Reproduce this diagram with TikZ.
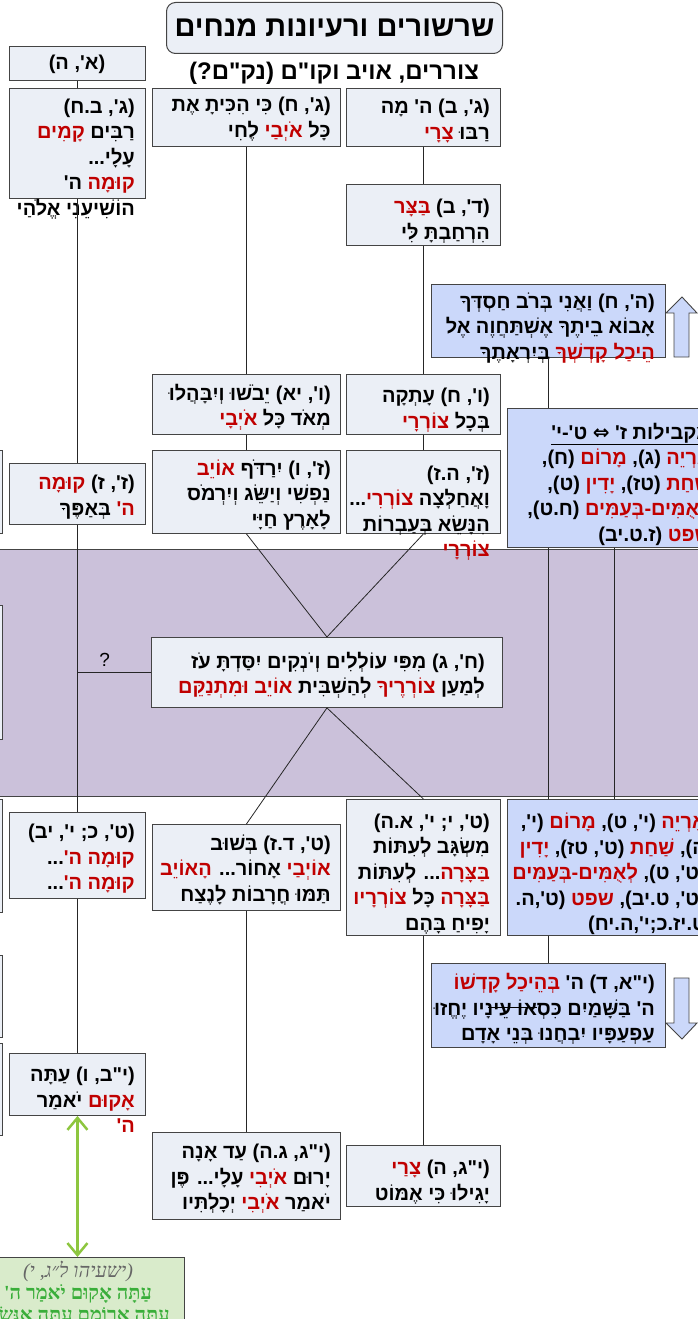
\documentclass[tikz,border=0pt]{standalone}
\usepackage{fontspec}
\usetikzlibrary{positioning,arrows.meta}
\TeXXeTstate=1
\newfontfamily\heb[Script=Hebrew]{Liberation Sans}
\newfontfamily\hebred[Script=Hebrew, Color=C00000]{Liberation Sans}
\newfontfamily\hebgray[Script=Hebrew, Color=666666]{Liberation Serif}
\newfontfamily\hebgreen[Script=Hebrew, Color=3AAE3A]{Liberation Serif}
\newfontfamily\dvs{DejaVu Sans}
\definecolor{boxfill}{HTML}{EBEFF6}
\definecolor{bluefill}{HTML}{CBD8FA}
\definecolor{bandfill}{HTML}{CBC1DA}
\definecolor{bord}{HTML}{444444}
\definecolor{grfill}{HTML}{D9EBCB}
\definecolor{grarrow}{HTML}{8DC63F}
\newcommand{\rl}[1]{\beginR #1\endR}
\newcommand{\rd}[1]{{\hebred #1}}

\begin{document}
\begin{tikzpicture}[x=1pt, y=-1pt]
  \tikzstyle{vbox} = [draw=bord, fill=boxfill, line width=0.9pt, inner sep=0pt, anchor=north west]
  \tikzstyle{bbox} = [vbox, fill=bluefill]
  \tikzstyle{txt} = [align=right, inner sep=0pt, anchor=east, font=\heb\bfseries\fontsize{20}{25.5}\selectfont]
  \tikzstyle{link} = [draw=black!85, line width=0.8pt]
  \useasboundingbox (0,0) rectangle (698,1319);
  \clip (0,0) rectangle (698,1319);

  % band
  \node[draw=bord, fill=bandfill, line width=1.2pt, minimum width=720, minimum height=247, anchor=north west] (band) at (-11,549) {};

  % title
  \node[draw=bord, fill=boxfill, rounded corners=9pt, line width=1pt, minimum width=336, minimum height=51, anchor=north west,
        font=\heb\bfseries\fontsize{29}{32}\selectfont] (title) at (166,2) {\rl{שרשורים ורעיונות מנחים}};
  \node[font=\heb\bfseries\fontsize{24}{28}\selectfont] (sub) at (334,73) {\rl{צוררים, אויב וקו"ם (נק"ם?)}};

  % cut boxes on the left
  \node[vbox, minimum width=22, minimum height=83] (l1) at (-20,450) {};
  \node[vbox, minimum width=22, minimum height=134] (l2) at (-20,605) {};
  \node[vbox, minimum width=22, minimum height=113] (l3) at (-20,799) {};
  \node[vbox, minimum width=22, minimum height=82] (l4) at (-20,955) {};
  \node[vbox, minimum width=22, minimum height=92] (l5) at (-20,1043) {};

  % left column
  \node[vbox, minimum width=136, minimum height=34] (ah) at (9,46) {};
  \node[txt, anchor=center] (ah-t) at (77,64) {\rl{(א', ה)}};
  \node[vbox, minimum width=136, minimum height=110] (gbh) at (9,88) {};
  \node[txt] (gbh-t) at (135,159) {\rl{(ג', ב.ח)}\\ \rl{רַבִּים \rd{קָמִים}}\\ \rl{עָלָי...}\\ \rl{\rd{קוּמָה} ה'}\\ \rl{הוֹשִׁיעֵנִי אֱלֹהַי}};
  \node[vbox, minimum width=136, minimum height=61] (zz) at (9,463) {};
  \node[txt] (zz-t) at (135,497) {\rl{(ז', ז) \rd{קוּמָה}}\\ \rl{\rd{ה'} בְּאַפֶּךָ}};
  \node[vbox, minimum width=136, minimum height=86] (tk) at (9,812) {};
  \node[txt] (tk-t) at (135,859) {\rl{(ט', כ; י', יב)}\\ \rl{\rd{קוּמָה ה'}...}\\ \rl{\rd{קוּמָה ה'}...}};
  \node[vbox, minimum width=136, minimum height=62] (ybv) at (9,1053) {};
  \node[txt] (ybv-t) at (135,1100) {\rl{(י"ב, ו) עַתָּה}\\ \rl{\rd{אָקוּם} יֹאמַר}\\ \rl{\rd{ה'}}};
  \node[draw=bord, fill=grfill, line width=1pt, minimum width=214, minimum height=90, anchor=north west] (isa) at (-30,1257) {};
  \node[align=center, inner sep=0pt, font=\fontsize{20}{22}\selectfont] (isa-t) at (78,1294)
       {{\hebgray\itshape\rl{(ישעיהו ל״ג, י)}}\\ {\hebgreen\bfseries\rl{עַתָּה אָקוּם יֹאמַר ה'}}\\ {\hebgreen\bfseries\rl{עַתָּה אֵרוֹמָם עַתָּה אֶנָּשֵׂא}}};

  % middle column
  \node[vbox, minimum width=188, minimum height=58] (gh) at (152,88) {};
  \node[txt] (gh-t) at (331,119) {\rl{(ג', ח) כִּי הִכִּיתָ אֶת}\\ \rl{כָּל \rd{אֹיְבַי} לֶחִי}};
  \node[vbox, minimum width=188, minimum height=60] (vya) at (152,374) {};
  \node[txt] (vya-t) at (331,407) {\rl{(ו', יא) יֵבֹשׁוּ וְיִבָּהֲלוּ}\\ \rl{מְאֹד כָּל \rd{אֹיְבָי}}};
  \node[vbox, minimum width=188, minimum height=83] (zv) at (152,450) {};
  \node[txt] (zv-t) at (331,495) {\rl{(ז', ו) יִרַדֹּף \rd{אוֹיֵב}}\\ \rl{נַפְשִׁי וְיַשֵּׂג וְיִרְמֹס}\\ \rl{לָאָרֶץ חַיָּי}};
  \node[vbox, minimum width=351, minimum height=70] (hg) at (151,637) {};
  \node[txt] (hg-t) at (485,675) {\rl{(ח', ג) מִפִּי עוֹלְלִים וְיֹנְקִים יִסַּדְתָּ עֹז}\\ \rl{לְמַעַן \rd{צוֹרְרֶיךָ} לְהַשְׁבִּית \rd{אוֹיֵב וּמִתְנַקֵּם}}};
  \node[vbox, minimum width=188, minimum height=86] (tdz) at (152,824) {};
  \node[txt] (tdz-t) at (331,870) {\rl{(ט', ד.ז) בְּשׁוּב}\\ \rl{\rd{אוֹיְבַי} אָחוֹר... \rd{הָאוֹיֵב}}\\ \rl{תַּמּוּ חֳרָבוֹת לָנֶצַח}};
  \node[vbox, minimum width=188, minimum height=87] (ygh) at (152,1132) {};
  \node[txt] (ygh-t) at (331,1179) {\rl{(י"ג, ג.ה) עַד אָנָה}\\ \rl{יָרוּם \rd{אֹיְבִי} עָלָי... פֶּן}\\ \rl{יֹאמַר \rd{אֹיְבִי} יְכָלְתִּיו}};

  % right column
  \node[vbox, minimum width=154, minimum height=58] (gb) at (346,88) {};
  \node[txt] (gb-t) at (490,121) {\rl{(ג', ב) ה' מָה}\\ \rl{רַבּוּ \rd{צָרָי}}};
  \node[vbox, minimum width=154, minimum height=61] (db) at (346,184) {};
  \node[txt] (db-t) at (490,221) {\rl{(ד', ב) \rd{בַּצָּר}}\\ \rl{הִרְחַבְתָּ לִּי}};
  \node[vbox, minimum width=154, minimum height=60] (vh) at (346,374) {};
  \node[txt] (vh-t) at (490,410) {\rl{(ו', ח) עָתְקָה}\\ \rl{בְּכָל \rd{צוֹרְרָי}}};
  \node[vbox, minimum width=154, minimum height=83] (zhz) at (346,450) {};
  \node[txt] (zhz-t) at (490,513) {\rl{(ז', ה.ז)}\\ \rl{וָאֲחַלְּצָה \rd{צוֹרְרִי}...}\\ \rl{הִנָּשֵׂא בְּעַבְרוֹת}\\ \rl{\rd{צוֹרְרָי}}};
  \node[vbox, minimum width=154, minimum height=136] (ty) at (346,799) {};
  \node[txt] (ty-t) at (490,874) {\rl{(ט', י; י', א.ה)}\\ \rl{מִשְׂגָּב לְעִתּוֹת}\\ \rl{\rd{בַּצָּרָה}... לְעִתּוֹת}\\ \rl{\rd{בַּצָּרָה} כָּל \rd{צוֹרְרָיו}}\\ \rl{יָפִיחַ בָּהֶם}};
  \node[vbox, minimum width=154, minimum height=61] (ygha) at (346,1145) {};
  \node[txt] (ygha-t) at (490,1182) {\rl{(י"ג, ה) \rd{צָרַי}}\\ \rl{יָגִילוּ כִּי אֶמּוֹט}};

  % blue boxes
  \node[bbox, minimum width=234, minimum height=73] (hh) at (431,284) {};
  \node[txt] (hh-t) at (655,328) {\rl{(ה', ח) וַאֲנִי בְּרֹב חַסְדְּךָ}\\ \rl{אָבוֹא בֵיתֶךָ אֶשְׁתַּחֲוֶה אֶל}\\ \rl{\rd{הֵיכַל קָדְשְׁךָ} בְּיִרְאָתֶךָ}};
  \node[bbox, minimum width=214, minimum height=139] (mak) at (507,408) {};
  \node[txt] (mak-t) at (711,484) {\underline{\rl{מקבילות ז' {\dvs ⇔} ט'-י'}}\\ \rl{\rd{אַרְיֵה} (ג), \rd{מָרוֹם} (ח),}\\ \rl{\rd{שַׁחַת} (טז), \rd{יָדִין} (ט),}\\ \rl{\rd{לְאֻמִּים-בְּעַמִּים} (ח.ט),}\\ \rl{\rd{שפט} (ז.ט.יב)}};
  \node[bbox, minimum width=214, minimum height=136] (yt) at (507,799) {};
  \node[txt] (yt-t) at (706,874) {\rl{\rd{אַרְיֵה} (י', ט), \rd{מָרוֹם} (י',}\\ \rl{ה), \rd{שַׁחַת} (ט', טז), \rd{יָדִין}}\\ \rl{(ט', ט), \rd{לְאֻמִּים-בְּעַמִּים}}\\ \rl{(ט', ט.יב), \rd{שפט} (ט',ה.}\\ \rl{ט.יז.כ;י',ה.יח)}};
  \node[bbox, minimum width=234, minimum height=84] (yad) at (431,963) {};
  \node[txt] (yad-t) at (655,1009) {\rl{(י"א, ד) ה' \rd{בְּהֵיכַל קָדְשׁוֹ}}\\ \rl{ה' בַּשָּׁמַיִם כִּסְאוֹ עֵינָיו יֶחֱזוּ}\\ \rl{עַפְעַפָּיו יִבְחֲנוּ בְּנֵי אָדָם}};
  \draw[line width=0.7pt] (488,1007) -- (537,1007);

  % block arrows
  \draw[draw=bord, fill=bluefill, line width=0.9pt] (682,297) -- (697,313) -- (689,313) -- (689,357) -- (674,357) -- (674,313) -- (666,313) -- cycle;
  \draw[draw=bord, fill=bluefill, line width=0.9pt] (674,978) -- (689,978) -- (689,1023) -- (697,1023) -- (682,1039) -- (666,1023) -- (674,1023) -- cycle;

  % links
  \draw[link] (ah) -- (gbh);
  \draw[link] (gbh) -- (zz);
  \draw[link] (zz) -- (tk);
  \draw[link] (tk) -- (ybv);
  \draw[link] (gh) -- (vya);
  \draw[link] (vya) -- (zv);
  \draw[link] (gb) -- (db);
  \draw[link] (db) -- (vh);
  \draw[link] (vh) -- (zhz);
  \draw[link] (zv.south) -- (hg.north);
  \draw[link] (zhz.south) -- (hg.north);
  \draw[link] (hg.south) -- (tdz.north);
  \draw[link] (hg.south) -- (ty.north);
  \draw[link] (tdz) -- (ygh);
  \draw[link] (ty) -- (ygha);
  \draw[link] (hg.west) -- (hg.west -| zz.south) node[pos=0.63, above=2pt, font=\heb\fontsize{19}{22}\selectfont, text=black] {?};
  \draw[link] (hh.south) -- (hh.south |- mak.north);
  \draw[link] (hh.south |- mak.south) -- (hh.south |- yt.north);
  \draw[link] (mak) -- (yt);
  \draw[link] (yad.north |- yt.south) -- (yad.north);
  \draw[grarrow, line width=2.5pt, {Straight Barb[length=12pt, width=20pt]}-{Straight Barb[length=12pt, width=20pt]}] (ybv.south) -- (isa.north -| ybv.south);
\end{tikzpicture}
\end{document}
